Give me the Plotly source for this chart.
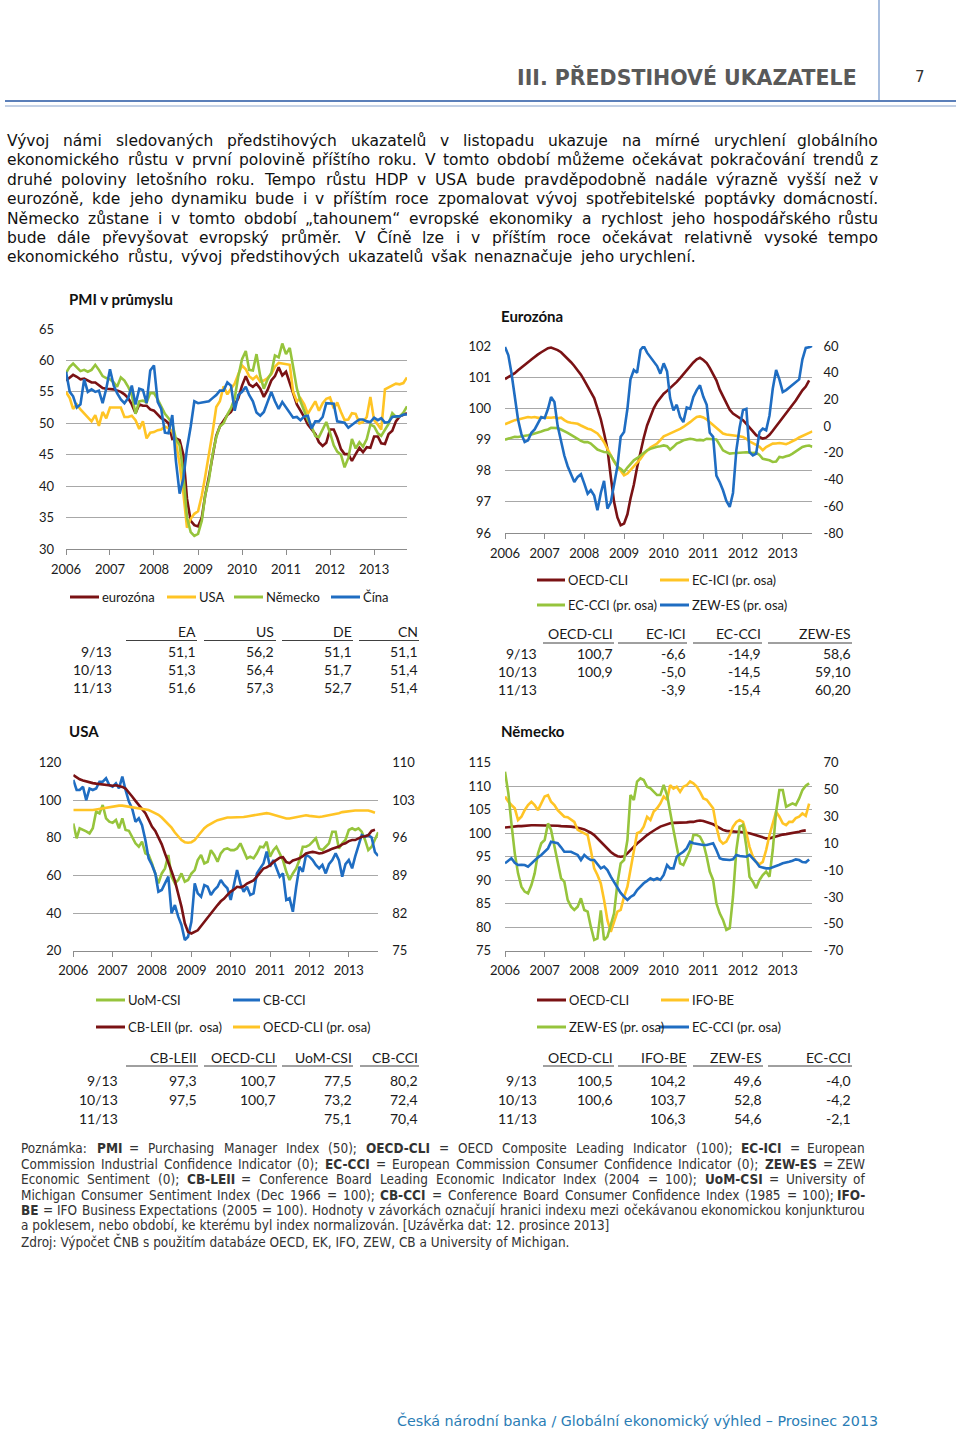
import unicodedata
import pandas as pd
import plotly.graph_objects as go

W, H = 960, 1436

# ---------------- data (monthly values starting Jan 2006) ----------------
year_labels = ["2006", "2007", "2008", "2009", "2010", "2011", "2012", "2013"]

pmi_eurozone = [
    56.8, 57.3, 57.7, 57.4, 57.0, 57.1, 56.8, 56.5, 56.5, 56.0, 55.6, 55.5,
    55.5, 55.4, 55.2, 55.0, 54.6, 54.0, 53.0, 51.6, 53.0, 52.8, 52.8, 52.2,
    52.0, 51.3, 50.8, 50.5, 50.0, 47.5, 47.6, 47.3, 45.0, 38.0, 34.5, 33.8,
    33.6, 35.0, 38.5, 41.5, 45.0, 48.0, 49.5, 50.5, 51.3, 51.8, 52.8, 54.0,
    56.0, 57.5, 56.2, 55.8, 56.3, 55.5, 54.2, 55.3, 56.8, 57.5, 58.9, 57.6,
    58.2, 56.5, 55.0, 53.0, 52.0, 51.0, 49.8, 49.0, 48.3, 47.0, 46.4, 46.9,
    49.0, 49.0, 47.7, 45.9, 45.1, 45.1, 44.0, 45.1, 46.1, 45.4, 46.2, 46.1,
    47.9, 47.9, 46.8, 46.7, 48.3, 48.8, 50.3, 51.1, 51.3, 51.6]
pmi_usa = [
    55.0, 54.0, 52.3, 53.0, 52.2, 51.5, 51.0, 50.3, 51.3, 49.6, 51.8, 50.8,
    52.5, 52.5, 52.6, 52.5, 51.0, 51.0, 51.2, 50.5, 49.1, 50.3, 47.6, 48.5,
    48.6, 48.9, 49.0, 49.5, 49.2, 48.7, 47.0, 43.5, 38.9, 33.4, 34.8, 35.6,
    36.0, 38.5, 41.5, 44.8, 48.5, 52.6, 53.5, 55.9, 54.6, 55.5, 56.3, 57.8,
    59.2, 58.6, 57.5, 57.0, 57.5, 56.6, 56.8, 57.2, 57.8, 59.0, 59.6, 59.5,
    59.4, 59.3, 55.0, 53.5, 54.0, 53.0, 51.5, 52.5, 53.5, 52.0, 53.2, 53.9,
    54.1, 52.4, 53.3, 51.8, 50.5, 50.6, 51.6, 51.5, 50.0, 50.2, 51.0, 54.2,
    50.5, 49.8, 49.0, 55.4, 55.7, 56.0, 56.3, 56.2, 56.4, 57.3]
pmi_germany = [
    58.0, 59.0, 59.5, 58.8, 58.3, 58.5, 58.2, 58.5, 59.3, 58.5, 57.5, 57.2,
    57.0, 56.5, 55.8, 57.3, 56.8, 55.8, 54.5, 51.5, 53.5, 53.6, 53.3, 54.8,
    54.8, 53.8, 52.6, 51.5, 50.8, 50.0, 47.5, 46.5, 42.0, 35.0, 32.7, 32.1,
    32.4, 34.5, 38.5, 41.0, 45.0, 47.8, 49.5, 50.0, 51.4, 52.4, 54.0, 57.5,
    60.2, 61.5, 58.5, 58.4, 61.0, 57.5, 55.5, 57.0, 58.0, 60.8, 60.5, 62.7,
    61.0, 62.0, 59.0, 55.5, 53.5, 52.0, 50.5, 49.5, 48.0, 47.8, 49.0, 50.2,
    48.5, 46.5, 45.5, 45.0, 43.0, 44.5, 47.5, 46.0, 47.0, 46.3, 47.5, 49.8,
    49.5, 48.4, 48.0, 49.0, 49.9, 51.6, 51.0, 51.1, 51.7, 52.7]
pmi_china = [
    58.2, 55.0, 54.3, 52.5, 53.0, 57.0, 55.0, 55.4, 55.0, 55.2, 53.2, 55.5,
    58.6, 56.0, 54.8, 53.8, 53.2, 54.0, 56.0, 53.0, 55.5, 55.3, 53.2, 58.4,
    59.2, 53.4, 52.3, 48.5, 48.4, 51.3, 44.0, 38.8, 41.2, 46.0, 49.5, 53.5,
    53.2, 53.3, 53.3, 53.5, 54.0, 54.5, 55.2, 55.2, 56.5, 56.0, 52.0, 54.5,
    55.0, 55.8, 54.5, 53.5, 51.7, 51.2, 51.8, 53.5, 55.0, 53.5, 52.3, 53.4,
    52.5, 51.8, 50.9, 51.0, 50.5, 51.1, 51.2, 49.2, 50.3, 50.3, 51.0, 53.2,
    53.2, 53.1, 50.3, 50.2, 50.1, 49.3, 49.8, 50.2, 50.6, 50.6, 50.3, 50.2,
    50.9, 50.5, 50.8, 50.1, 50.2, 51.0, 51.1, 51.1, 51.4, 51.4]

ez_oecd_cli = [
    100.94, 101.0, 101.06, 101.13, 101.22, 101.3, 101.39, 101.48, 101.57, 101.66, 101.73, 101.8,
    101.88, 101.93, 101.95, 101.92, 101.87, 101.8, 101.7, 101.6, 101.48, 101.36, 101.22, 101.08,
    100.9, 100.72, 100.55, 100.33, 100.0, 99.65, 99.2, 98.7, 97.8, 97.0, 96.5, 96.25,
    96.3, 96.6, 97.1, 97.55, 98.1, 98.6, 99.05, 99.45, 99.75, 100.0, 100.2, 100.35,
    100.47, 100.56, 100.65, 100.74, 100.85, 100.97, 101.1, 101.22, 101.35, 101.47, 101.57, 101.62,
    101.55, 101.45, 101.3, 101.1, 100.9, 100.6, 100.37, 100.15, 99.95, 99.83, 99.75, 99.68,
    99.62, 99.5, 99.38, 99.25, 99.14, 99.08, 99.03, 99.06, 99.15, 99.28, 99.42, 99.57,
    99.72, 99.85, 99.98, 100.1, 100.25, 100.42, 100.58, 100.7, 100.9]
ez_ec_ici = [
    1.4, 2.5, 3.8, 4.5, 5.0, 5.6, 6.3, 6.8, 6.5, 6.8, 6.2, 6.4,
    6.1, 6.5, 6.3, 6.6, 5.8, 6.3, 4.5, 3.0, 2.5, 2.0, 1.8, 0.5,
    -1.0, -1.9, -2.5, -4.0, -5.5, -8.5, -12.0, -17.0, -22.0, -26.5, -30.0, -33.5,
    -36.8, -35.5, -33.0, -30.5, -28.0, -24.5, -21.0, -18.5, -16.0, -14.5, -13.0, -10.5,
    -7.6, -6.5, -5.5, -4.4, -3.5, -2.0, -0.6, 1.0, 3.0, 5.0, 6.8, 7.3,
    6.5, 5.0, 3.0, 0.6, -1.5, -3.5, -5.5, -6.3, -6.5, -6.9, -7.2, -7.5,
    -8.1, -9.5, -11.5, -12.5, -14.0, -15.5, -18.0, -15.6, -14.5, -13.1, -13.0, -12.6,
    -13.0, -13.5, -12.5, -11.4, -10.0, -8.5, -7.5, -6.6, -5.0, -3.9]
ez_ec_cci = [
    -10.1, -9.3, -8.5, -8.0, -8.1, -7.8, -7.5, -6.8, -6.2, -5.6, -5.0, -4.0,
    -3.1, -2.5, -1.2, -1.1, -1.5, -2.5, -3.5, -5.0, -6.5, -8.1, -9.5, -11.0,
    -12.0, -12.0, -13.0, -15.0, -17.5, -18.5, -19.4, -19.6, -22.0, -26.0, -30.5, -32.0,
    -34.3, -31.0, -28.5, -25.6, -24.0, -21.9, -20.0, -18.1, -17.0, -16.0, -15.5, -15.0,
    -14.4, -15.0, -17.6, -15.5, -13.1, -12.0, -10.6, -10.0, -9.4, -9.8, -10.6, -10.3,
    -10.6, -9.4, -9.6, -9.4, -10.0, -14.0, -18.1, -19.5, -20.6, -20.3, -20.1, -19.8,
    -19.4, -19.5, -19.8, -20.1, -19.8, -21.5, -24.4, -25.0, -25.6, -26.8, -26.5, -23.1,
    -23.5, -22.6, -22.0, -20.6, -19.0, -16.9, -15.6, -14.9, -14.5, -15.4]
ez_zew_es = [
    59.3, 53, 40, 22, 5, -6, -11.9, -10.6, -5, -2.5, 2, 6.8,
    6, 13, 21.8, 18.1, 0, -12, -22, -30, -35.6, -41.8, -38, -36,
    -43, -50.6, -48, -52, -63, -50, -41, -61.8, -57, -45, -30, -8,
    -4.4, 13, 35, 42, 40, 57, 60, 55, 51.5, 49, 45, 39.3,
    47, 41, 21, 11.8, 16, 6.8, 3, 14, 13, 21.8, 27, 30.6,
    22, 16, -5, -8, -37, -42, -48, -56, -60.5, -50, -18, -1,
    12, 13, -19.4, -21.9, -20.6, -4.4, -1.9, -3.1, 8, 28, 42, 35,
    25.6, 27, 29, 31, 33.1, 35, 50, 58.6, 59.1, 60.2]

us_uom_csi = [
    87.7, 79.8, 85.1, 84.5, 83.5, 82.4, 85.1, 94, 93, 97.5, 90.4, 88.6,
    88, 89.5, 85.1, 90.4, 84.2, 83.8, 80.6, 77.1, 75.3, 78, 71.8, 70.9,
    66.4, 61.1, 55.8, 61.1, 63.8, 70.9, 59.4, 55.8, 57.6, 61.1, 56.7, 57.6,
    61, 62.9, 68.2, 70.9, 66.4, 67.3, 73.5, 70.9, 67.3, 71.8, 73.9, 74.4,
    73.5, 73.5, 74.4, 77.1, 72.7, 69.1, 70, 69.1, 71.8, 75.3, 75, 78,
    70, 73.5, 75.3, 71.8, 68.2, 62, 57.6, 61.1, 63.8, 68.2, 75.3, 75.3,
    76.2, 78, 79.8, 74.4, 73.5, 75.3, 77.1, 83.3, 83.3, 74.4, 77.1, 78.9,
    84.2, 85.1, 84.2, 85.1, 83.3, 78.9, 73.5, 75.3, 79, 83]
us_cb_cci = [
    110.8, 105.5, 105.5, 107.2, 100.1, 106.3, 105.5, 106.3, 109.9, 109.9, 111.7, 108.1,
    107.2, 109, 106.3, 112.6, 105.5, 99.3, 95.7, 88.6, 90.4, 86.8, 78.9, 69.1,
    65.6, 61.1, 51.4, 52.3, 55.8, 59.4, 39.9, 44.3, 38.1, 33.7, 25.7, 27.4,
    35.4, 55.8, 50.5, 48.7, 54.9, 54, 49.6, 52.3, 54, 57.6, 55, 53.2,
    47, 55.8, 62.9, 55.8, 51.4, 54, 49.6, 50.5, 61.1, 63.8, 66.4, 72.7,
    64.7, 68.2, 63.8, 59.4, 61.1, 47, 47.9, 40.7, 54, 64.7, 62, 70.9,
    70, 68.2, 65.6, 63.8, 65.6, 61.1, 66, 68.2, 71.8, 68.2, 59.4, 66,
    68.2, 63.8, 70, 75.3, 81.5, 80.6, 81.5, 80.2, 72.4, 70.4]
us_cb_leii = [
    107.7, 107.2, 106.9, 106.7, 106.5, 106.3, 106.2, 106.1, 106.0, 105.9, 105.8, 105.7,
    105.7, 105.8, 105.7, 105.5, 105.2, 104.5, 103.7, 102.9, 102.1, 101.4, 100.6, 99.4,
    98.1, 97.3, 96.2, 94.8, 93.1, 91.2, 89.8, 88.0, 85.5, 83.2, 80.1, 78.5,
    78.2, 78.5, 78.8, 79.6, 80.4, 81.2, 81.9, 82.7, 83.5, 84.2, 84.7, 85.4,
    86.0, 86.4, 86.9, 86.8, 87.0, 87.5, 87.8, 88.1, 88.8, 89.5, 90.3, 90.5,
    90.9, 91.5, 91.9, 92.3, 92.4, 91.5, 91.3, 91.8, 92.0, 92.2, 92.6, 93.1,
    93.3, 93.4, 93.3, 93.1, 93.2, 93.4, 93.7, 94.0, 94.2, 94.4, 94.8, 95.0,
    95.4, 95.6, 95.6, 95.9, 96.2, 96.3, 96.5, 97.3, 97.5]
us_oecd_cli = [
    101.2, 101.2, 101.1, 101.1, 101.1, 101.2, 101.2, 101.3, 101.4, 101.5, 101.7, 101.8,
    101.9, 102.0, 102.0, 102.0, 101.9, 101.8, 101.7, 101.6, 101.5, 101.4, 101.3, 101.2,
    100.9, 100.6, 100.3, 99.8, 99.2, 98.6, 97.9, 97.0, 96.2, 95.6, 95.2, 95.1,
    95.2, 95.6, 96.3, 97.1, 97.8, 98.3, 98.7, 99.0, 99.3, 99.5, 99.7, 99.8,
    99.8, 99.8, 99.8, 99.8, 99.9, 100.0, 100.1, 100.2, 100.3, 100.4, 100.5, 100.6,
    100.5, 100.3, 100.1, 99.9, 99.7, 99.6, 99.6, 99.7, 99.8, 99.9, 100.1, 100.2,
    100.1, 100.0, 99.9, 99.9, 100.0, 100.1, 100.2, 100.3, 100.4, 100.6, 100.8, 100.9,
    101.0, 101.0, 101.1, 101.1, 101.1, 101.2, 101.1, 100.9, 100.7]

de_oecd_cli = [
    101.2, 101.3, 101.3, 101.4, 101.5, 101.5, 101.6, 101.6, 101.7, 101.7, 101.7, 101.7,
    101.7, 101.7, 101.7, 101.6, 101.6, 101.5, 101.5, 101.4, 101.4, 101.3, 101.2, 101.0,
    100.8, 100.5, 100.1, 99.6, 98.9, 98.2, 97.4, 96.7, 96.0, 95.5, 95.1, 95.0,
    95.1, 95.7, 96.4, 97.1, 97.8, 98.4, 99.1, 99.6, 100.1, 100.6, 101.0, 101.4,
    101.7, 101.9, 102.1, 102.2, 102.2, 102.3, 102.3, 102.3, 102.4, 102.4, 102.6, 102.7,
    102.6, 102.4, 102.2, 101.9, 101.5, 101.0, 100.7, 100.5, 100.4, 100.3, 100.3, 100.3,
    100.2, 100.2, 100.0, 99.8, 99.6, 99.3, 99.1, 98.9, 98.9, 99.1, 99.3, 99.6,
    99.7, 99.8, 99.9, 100.0, 100.2, 100.3, 100.5, 100.6]
de_ifo_be = [
    107.8, 106.7, 106, 105.3, 102.8, 103.5, 104.9, 106, 106.7, 106, 104.9, 106.3,
    107.8, 108.1, 106.7, 106, 104.9, 104.2, 103.5, 103.4, 102.8, 102.4, 100.7, 100.3,
    100, 99.6, 96.4, 92.5, 91.1, 89.3, 85.8, 81.5, 79, 81.2, 83.3, 83.7,
    86.5, 88.6, 92.2, 96.4, 100, 100.3, 101.4, 103.5, 102.8, 104.6, 105.3, 106.3,
    107.8, 107.1, 110.2, 109.5, 109.9, 108.8, 109.9, 110.2, 111, 110.6, 109.9, 108.8,
    107.4, 107.1, 106.3, 105.3, 101.4, 98.5, 97.8, 98.2, 99.6, 101.4, 102.4, 102.8,
    102.4, 100, 97.1, 95, 93.9, 93.4, 93.9, 96.4, 99.6, 102.1, 104.6, 103.5,
    102.1, 101.7, 102.4, 102.4, 103.2, 103.5, 104.2, 103.7, 106.3]
de_zew_es = [
    63.3, 47.2, 24.8, 2.5, -12.4, -22.3, -26, -27.3, -21.1, -12.4, 2.5, 10,
    12.4, 24.8, 19.9, 7.5, -4.9, -16.1, -18.6, -32.2, -37.2, -39.7, -37.2, -31,
    -39.7, -40.9, -52.1, -62, -60.8, -40, -62, -59.5, -50.8, -42.2, -19.8, -4.9,
    -2.5, 12.4, 45.9, 42.2, 55.9, 58.3, 57.1, 52.1, 50.9, 48.4, 45.9, 45.9,
    53.4, 45.9, 32.3, 19.9, 7.5, -4.9, -6.2, -1.2, 5, 16.2, 16.2, 14.9,
    10, 0, -11.1, -17.3, -34.7, -42.2, -47.1, -54.6, -53.3, -29.8, 5, 22.4,
    23.6, 7.5, -14.9, -18.6, -23.5, -17.3, -13.6, -11.1, -14.9, 5, 33.5, 49.7,
    49.7, 37.2, 38.5, 39.7, 38.5, 43.4, 49.6, 52.8, 54.6]
de_ec_cci = [
    -4.9, -3.0, -1.2, -4.5, -6.2, -6.0, -6.2, -7.4, -5.0, -2.5, -0.5, 1.3,
    4.0, 6.2, 11.2, 10.5, 10.0, 7.0, 3.7, 3.7, 3.7, 2.5, 1.3, -2.5,
    1.3, -1.0, -2.5, -2.5, -6.0, -8.7, -7.4, -10.0, -14.9, -19.0, -23.5, -27.0,
    -29.8, -32.2, -30.0, -28.5, -24.8, -22.0, -19.8, -18.0, -16.1, -17.3, -16.1, -17.3,
    -13.6, -6.2, -8.7, -8.7, 0.0, 2.0, 3.7, 6.2, 11.2, 10.0, 9.5, 8.7,
    8.7, 8.7, 9.5, 10.0, 5.0, -1.2, -2.0, -2.5, -2.5, -2.0, 1.3, 0.5,
    0.0, 0.0, 1.3, -1.2, -4.0, -7.4, -8.0, -8.7, -8.7, -8.0, -6.9, -6.0,
    -4.9, -4.5, -3.7, -3.0, -2.0, -2.5, -4.0, -4.2, -2.1]

# ---------------- tables ----------------
table_rows = ["9/13", "10/13", "11/13"]
pmi_tab_cols = ["EA", "US", "DE", "CN"]
pmi_tab_vals = [["51,1", "51,3", "51,6"], ["56,2", "56,4", "57,3"],
                ["51,1", "51,7", "52,7"], ["51,1", "51,4", "51,4"]]
ez_tab_cols = ["OECD-CLI", "EC-ICI", "EC-CCI", "ZEW-ES"]
ez_tab_vals = [["100,7", "100,9", ""], ["-6,6", "-5,0", "-3,9"],
               ["-14,9", "-14,5", "-15,4"], ["58,6", "59,10", "60,20"]]
us_tab_cols = ["CB-LEII", "OECD-CLI", "UoM-CSI", "CB-CCI"]
us_tab_vals = [["97,3", "97,5", ""], ["100,7", "100,7", ""],
               ["77,5", "73,2", "75,1"], ["80,2", "72,4", "70,4"]]
de_tab_cols = ["OECD-CLI", "IFO-BE", "ZEW-ES", "EC-CCI"]
de_tab_vals = [["100,5", "100,6", ""], ["104,2", "103,7", "106,3"],
               ["49,6", "52,8", "54,6"], ["-4,0", "-4,2", "-2,1"]]

# ---------------- texts ----------------
header_title = "III. PŘEDSTIHOVÉ UKAZATELE"
page_number = "7"
paragraph = [
    "Vývoj námi sledovaných předstihových ukazatelů v listopadu ukazuje na mírné urychlení globálního",
    "ekonomického růstu v první polovině příštího roku. V tomto období můžeme očekávat pokračování trendů z",
    "druhé poloviny letošního roku. Tempo růstu HDP v USA bude pravděpodobně nadále výrazně vyšší než v",
    "eurozóně, kde jeho dynamiku bude i v příštím roce zpomalovat vývoj spotřebitelské poptávky domácností.",
    "Německo zůstane i v tomto období „tahounem“ evropské ekonomiky a rychlost jeho hospodářského růstu",
    "bude dále převyšovat evropský průměr. V Číně lze i v příštím roce očekávat relativně vysoké tempo",
    "ekonomického růstu, vývoj předstihových ukazatelů však nenaznačuje jeho urychlení.",
]
note = [
    "Poznámka: <b>PMI</b> = Purchasing Manager Index (50); <b>OECD-CLI</b> = OECD Composite Leading Indicator (100); <b>EC-ICI</b> = European",
    "Commission Industrial Confidence Indicator (0); <b>EC-CCI</b> = European Commission Consumer Confidence Indicator (0); <b>ZEW-ES</b> = ZEW",
    "Economic Sentiment (0); <b>CB-LEII</b> = Conference Board Leading Economic Indicator Index (2004 = 100); <b>UoM-CSI</b> = University of",
    "Michigan Consumer Sentiment Index (Dec 1966 = 100); <b>CB-CCI</b> = Conference Board Consumer Confidence Index (1985 = 100); <b>IFO-</b>",
    "<b>BE</b> = IFO Business Expectations (2005 = 100). Hodnoty v závorkách označují hranici indexu mezi očekávanou ekonomickou konjunkturou",
    "a poklesem, nebo období, ke kterému byl index normalizován. [Uzávěrka dat: 12. prosince 2013]",
    "Zdroj: Výpočet ČNB s použitím databáze OECD, EK, IFO, ZEW, CB a University of Michigan.",
]
footer = "Česká národní banka / Globální ekonomický výhled – Prosinec 2013"

# ---------------- styles ----------------
RED, YEL, GRN, BLU = "#7a1214", "#ffc425", "#96c43c", "#1f6dc2"
GRID, AXC, TXT = "#a8a8a8", "#8c8c8c", "#1a1a1a"
CAL = "Lato, Carlito, sans-serif"
VER = "DejaVu Sans, Verdana, sans-serif"
CON = "DejaVu Sans Condensed, DejaVu Sans, sans-serif"

# DejaVu Sans advance widths (em fractions) used to lay out justified text
_dv = dict(zip("abcdefghijklmnopqrstuvwxyz",
               [1255, 1300, 1126, 1300, 1260, 721, 1300, 1298, 569, 569, 1186, 569, 1995,
                1298, 1253, 1300, 1300, 842, 1067, 803, 1298, 1212, 1675, 1212, 1212, 1075]))
_dv.update(zip("ABCDEFGHIJKLMNOPQRSTUVWXYZ",
               [1401, 1405, 1430, 1577, 1294, 1178, 1587, 1540, 604, 604, 1343, 1141, 1767,
                1532, 1612, 1235, 1612, 1423, 1300, 1251, 1499, 1401, 2025, 1403, 1251, 1403]))
_dv.update({c: 1303 for c in "0123456789"})
_dv.update({" ": 651, ",": 651, ".": 651, ":": 690, ";": 690, "-": 739, "(": 799, ")": 799,
            "[": 799, "]": 799, "=": 1716, "/": 690, "„": 1067, "“": 1067, "–": 1024})
DVW = {k: v / 2048 for k, v in _dv.items()}

anns, shapes = [], []


def PX(x):
    return x / W


def PY(y):
    return 1 - y / H


def text_at(x, y, text, anchor="left", size=13, family=CAL, color=TXT):
    anns.append(dict(x=PX(x), y=PY(y), xref="paper", yref="paper", text=text, showarrow=False,
                     xanchor=anchor, yanchor="middle", borderpad=0,
                     font=dict(family=family, size=size, color=color)))


def line_at(x0, y0, x1, y1, color, width):
    shapes.append(dict(type="line", xref="paper", yref="paper", x0=PX(x0), x1=PX(x1),
                       y0=PY(y0), y1=PY(y1), line=dict(color=color, width=width)))


def em_width(word, scale=1.0):
    t = word.replace("<b>", "").replace("</b>", "")
    s = sum(DVW.get(unicodedata.normalize("NFD", c)[0], 0.6) for c in t) * scale
    return s * (1.1 if "<b>" in word else 1.0)


def justify(line, x0, x1, y, size, family, color, scale):
    words = line.split(" ")
    ws = [em_width(w, scale) * size for w in words]
    gap = (x1 - x0 - sum(ws)) / max(len(words) - 1, 1)
    x = x0
    for i, (w, wd) in enumerate(zip(words, ws)):
        if i == len(words) - 1 and len(words) > 1:
            text_at(x1, y, w, "right", size, family, color)
        else:
            text_at(x, y, w, "left", size, family, color)
        x += wd + gap


# ---------------- header ----------------
text_at(858, 78, "<b>" + header_title + "</b>", "right", 20.5, VER, "#595959")
text_at(920, 77, page_number, "center", 15, VER, "#333333")
line_at(879, 0, 879, 101, "#6f93c8", 1.2)
line_at(5, 101, 956, 101, "#5b7fb9", 2.2)
line_at(5, 106, 956, 106, "#8aa4cc", 1.2)

# ---------------- paragraph ----------------
par_y = [141, 160.5, 180, 199, 218.5, 238, 257]
par_right = [879, 879, 879, 879, 879, 879, 697]
for ln, yy, xr in zip(paragraph, par_y, par_right):
    justify(ln, 6, xr, yy, 15.5, VER, "#111111", 1.0)

# ---------------- note ----------------
note_y = [1148, 1163.5, 1179, 1194.5, 1209.5, 1225, 1241]
note_right = [866, 866, 866, 866, 866, None, None]
words6 = note[5].split(" ")
note_size = (611 - 20) / (sum(em_width(w, 0.9) for w in words6) + 0.9 * DVW[" "] * (len(words6) - 1))
note_size = min(note_size, 13.5)
for ln, yy, xr in zip(note, note_y, note_right):
    if xr is None:
        text_at(20, yy, ln, "left", note_size, CON, "#333333")
    else:
        justify(ln, 20, xr, yy, note_size, CON, "#333333", 0.9)

# ---------------- footer ----------------
foot_size = (879 - 395) / em_width(footer)
text_at(879, 1420, footer, "right", min(foot_size, 15), VER, "#2a7db5")

# ---------------- charts ----------------
fig = go.Figure()


def dates(n):
    return pd.date_range("2006-01-01", periods=n, freq="MS")


def add(series, color, xa, ya):
    fig.add_trace(go.Scatter(x=dates(len(series)), y=series, mode="lines", xaxis=xa, yaxis=ya,
                             line=dict(color=color, width=2.6), hoverinfo="skip", showlegend=False))


add(pmi_eurozone, RED, "x", "y")
add(pmi_usa, YEL, "x", "y")
add(pmi_germany, GRN, "x", "y")
add(pmi_china, BLU, "x", "y")

add(ez_oecd_cli, RED, "x2", "y2")
add(ez_ec_ici, YEL, "x2", "y3")
add(ez_ec_cci, GRN, "x2", "y3")
add(ez_zew_es, BLU, "x2", "y3")

add(us_uom_csi, GRN, "x3", "y4")
add(us_cb_cci, BLU, "x3", "y4")
add(us_cb_leii, RED, "x3", "y5")
add(us_oecd_cli, YEL, "x3", "y5")

add(de_oecd_cli, RED, "x4", "y6")
add(de_ifo_be, YEL, "x4", "y6")
add(de_zew_es, GRN, "x4", "y7")
add(de_ec_cci, BLU, "x4", "y7")

tickfont = dict(family=CAL, size=13, color=TXT)
year_vals = [f"{y}-01-01" for y in year_labels]


def xax(x0, x1, anchor):
    return dict(domain=[PX(x0), PX(x1)], anchor=anchor, type="date",
                range=["2006-01-01", "2013-10-01"], tickvals=year_vals, ticktext=year_labels,
                ticks="outside", ticklen=5, tickcolor=AXC, showline=True, linecolor=AXC,
                linewidth=1, showgrid=False, zeroline=False, tickfont=tickfont,
                ticklabelstandoff=3, fixedrange=True, automargin=False)


def yax(y_top, y_bot, anchor, lo, hi, step, grid=True, side="left", overlay=None, standoff=10):
    vals = []
    v = lo
    while v <= hi + 1e-9:
        vals.append(v)
        v += step
    d = dict(domain=[PY(y_bot), PY(y_top)], anchor=anchor, range=[lo, hi], tickvals=vals,
             ticktext=[str(int(t)) for t in vals], showgrid=grid, gridcolor=GRID, gridwidth=1,
             zeroline=False, showline=False, ticks="", side=side, tickfont=tickfont,
             ticklabelstandoff=standoff, fixedrange=True, automargin=False)
    if overlay:
        d["overlaying"] = overlay
        d.pop("domain")
    return d


fig.update_layout(
    xaxis=xax(66, 407, "y"),
    yaxis=yax(329, 549, "x", 30, 65, 5, standoff=11),
    xaxis2=xax(505, 812.4, "y2"),
    yaxis2=yax(346, 533, "x2", 96, 102, 1, standoff=13),
    yaxis3=yax(346, 533, "x2", -80, 60, 20, grid=False, side="right", overlay="y2", standoff=10),
    xaxis3=xax(73.3, 378.2, "y4"),
    yaxis4=yax(762.7, 950.7, "x3", 20, 120, 20, standoff=11),
    yaxis5=yax(762.7, 950.7, "x3", 75, 110, 7, grid=False, side="right", overlay="y4", standoff=13),
    xaxis4=xax(505, 812.4, "y6"),
    yaxis6=yax(762.7, 950.7, "x4", 75, 115, 5, standoff=13),
    yaxis7=yax(762.7, 950.7, "x4", -70, 70, 20, grid=False, side="right", overlay="y6", standoff=10),
)

# chart titles
for (tx, ty, tt) in [(68, 299, "PMI v průmyslu"), (500, 316, "Eurozóna"), (68, 731, "USA"), (500, 731, "Německo")]:
    text_at(tx, ty, "<b>" + tt + "</b>", "left", 15, CAL, "#111111")

# legends
legend_items = [
    (597, 70, 99, RED, "eurozóna"), (597, 167, 196, YEL, "USA"),
    (597, 234, 263, GRN, "Německo"), (597, 331, 360, BLU, "Čína"),
    (580, 537, 565, RED, "OECD-CLI"), (580, 660, 689, YEL, "EC-ICI (pr. osa)"),
    (605, 537, 565, GRN, "EC-CCI (pr. osa)"), (605, 660, 689, BLU, "ZEW-ES (pr. osa)"),
    (1000, 96, 125, GRN, "UoM-CSI"), (1000, 233, 260, BLU, "CB-CCI"),
    (1027, 96, 125, RED, "CB-LEII (pr.  osa)"), (1027, 233, 260, YEL, "OECD-CLI (pr. osa)"),
    (1000, 537, 566, RED, "OECD-CLI"), (1000, 661, 689, YEL, "IFO-BE"),
    (1027, 537, 566, GRN, "ZEW-ES (pr. osa)"), (1027, 659, 689, BLU, "EC-CCI (pr. osa)"),
]
for (ly, lx0, lx1, lc, lt) in legend_items:
    line_at(lx0, ly, lx1, ly, lc, 3)
    text_at(lx1 + 2, ly, lt, "left", 13, CAL, TXT)


def table(cols, vals, rights, segs, label_right, y_head, y_line, row_ys):
    for c, r in zip(cols, rights):
        text_at(r, y_head, c, "right", 14, CAL, TXT)
    for (s0, s1) in segs:
        line_at(s0, y_line, s1, y_line, "#404040", 1)
    for lab, ry in zip(table_rows, row_ys):
        text_at(label_right, ry, lab, "right", 14, CAL, TXT)
    for col, r in zip(vals, rights):
        for v, ry in zip(col, row_ys):
            if v:
                text_at(r, ry, v, "right", 14, CAL, TXT)


table(pmi_tab_cols, pmi_tab_vals, [197, 275, 353, 419],
      [(126, 197), (204, 276), (282, 353), (359, 419)], 113, 631, 640.5, [651, 669, 687])
table(ez_tab_cols, ez_tab_vals, [614, 687, 762, 852],
      [(543, 614), (618, 687), (693, 762), (768, 852)], 538, 633, 643, [653, 671, 689])
table(us_tab_cols, us_tab_vals, [198, 277, 353, 419],
      [(126, 198), (204, 277), (282, 353), (360, 419)], 119, 1057, 1066, [1080, 1099, 1118])
table(de_tab_cols, de_tab_vals, [614, 687, 763, 852],
      [(543, 614), (618, 687), (693, 763), (768, 852)], 538, 1057, 1066, [1080, 1099, 1118])

fig.update_layout(width=W, height=H, autosize=False, margin=dict(l=0, r=0, t=0, b=0, pad=0),
                  paper_bgcolor="white", plot_bgcolor="white", showlegend=False,
                  font=dict(family=CAL, size=13, color=TXT),
                  annotations=anns, shapes=shapes)

fig.write_html("out.html", config={"displayModeBar": False, "staticPlot": True},
               post_script="document.body.style.margin='0';document.body.style.overflow='hidden';")
